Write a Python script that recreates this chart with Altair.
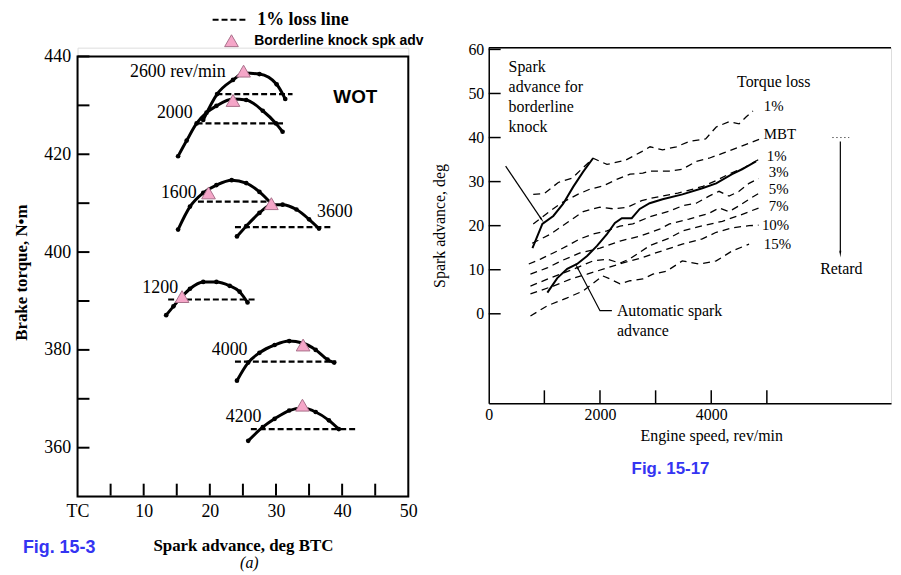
import altair as alt
import pandas as pd

SERIF = "Liberation Serif"
SANS = "Liberation Sans"
PINK = "#f5a6c8"
PINK_EDGE = "#a8708a"
BLUE = "#3434f2"

# ================= Fig. 15-3 : brake torque vs spark advance (WOT) =================
adv_1200 = [13.4, 14.5, 15.8, 17.0, 19.0, 21.0, 23.0, 24.5, 25.7]
trq_1200 = [387.1, 388.9, 390.9, 392.5, 393.9, 393.9, 393.1, 391.9, 389.7]
adv_1600 = [15.2, 17.0, 19.0, 21.0, 23.3, 25.5, 27.5, 29.3]
trq_1600 = [404.6, 409.3, 412.1, 413.7, 414.7, 414.1, 412.3, 409.9]
adv_2000 = [15.2, 16.5, 18.0, 19.5, 21.0, 23.5, 25.5, 28.0, 30.0, 31.0]
trq_2000 = [419.6, 422.8, 426.3, 428.5, 429.9, 431.3, 431.1, 428.9, 426.3, 424.6]
adv_2600 = [19.0, 21.1, 23.5, 25.3, 27.5, 30.1, 31.4]
trq_2600 = [427.0, 432.3, 435.2, 436.6, 436.4, 434.3, 431.3]
adv_3600 = [24.1, 25.5, 27.5, 29.3, 31.0, 33.1, 35.0, 36.5]
trq_3600 = [403.2, 405.3, 408.0, 409.7, 409.7, 408.7, 406.7, 404.8]
adv_4000 = [24.1, 25.8, 27.5, 29.8, 32.0, 34.0, 36.0, 37.8, 38.8]
trq_4000 = [373.7, 377.4, 379.4, 381.0, 381.8, 381.4, 380.0, 378.0, 377.4]
adv_4200 = [25.8, 28.0, 29.8, 32.0, 34.0, 36.0, 38.0, 39.5]
trq_4200 = [361.4, 364.2, 365.9, 367.6, 368.1, 367.3, 365.6, 363.8]

loss_from = [13.7, 18.2, 18.0, 21.0, 23.8, 23.8, 26.2]
loss_to = [26.8, 29.0, 31.3, 32.5, 38.3, 39.1, 42.0]
loss_trq = [390.3, 410.3, 426.3, 432.3, 405.1, 377.6, 363.8]

knock_adv = [15.8, 19.8, 23.5, 25.1, 29.3, 34.1, 34.0]
knock_trq = [390.9, 412.1, 431.0, 437.0, 409.9, 381.0, 368.7]

speed_labels = ["1200", "1600", "2000", "2600 rev/min", "3600", "4000", "4200"]
label_adv = [15.2, 18.0, 17.4, 22.4, 36.2, 25.7, 27.8]
label_trq = [392.7, 412.0, 428.4, 436.8, 408.1, 379.9, 366.3]
label_side = ["right", "right", "right", "right", "left", "right", "right"]

torque_ticks = [360, 370, 380, 390, 400, 410, 420, 430, 440]
torque_labels = [360, 380, 400, 420, 440]
advance_ticks = [5, 10, 15, 20, 25, 30, 35, 40, 45]
advance_labels = [0, 10, 20, 30, 40, 50]

# ================= Fig. 15-17 : spark advance vs engine speed =================
rpm_adv1 = [800, 1000, 1250, 1500, 1875, 2125, 2450, 2750, 2900, 3125, 3375, 3600, 3900, 4090, 4320, 4500, 4630, 4750]
deg_adv1 = [27.1, 27.3, 29.8, 30.8, 35.3, 33.9, 34.8, 36.8, 37.9, 37.2, 37.9, 39.1, 39.7, 42.4, 43.6, 43.1, 44.7, 46.0]
rpm_mbt = [800, 1100, 1300, 1600, 1820, 2050, 2300, 2540, 2770, 2900, 3250, 3480, 3730, 3960, 4200, 4450, 4680, 4860]
deg_mbt = [20.4, 23.3, 25.1, 27.1, 28.3, 29.0, 30.5, 31.7, 31.9, 32.4, 32.4, 32.8, 34.6, 35.3, 36.4, 37.6, 38.7, 39.6]
rpm_r1 = [780, 1100, 1400, 1700, 2000, 2250, 2500, 2750, 2950, 3400, 3850, 4100, 4300, 4600, 4850]
deg_r1 = [16.0, 18.0, 20.6, 23.2, 24.2, 23.8, 24.2, 25.7, 26.3, 27.4, 28.9, 30.3, 31.6, 33.2, 35.0]
rpm_r3 = [720, 930, 1160, 1410, 1640, 1875, 2125, 2360, 2590, 2893, 3250, 3480, 3730, 3960, 4140, 4320, 4500, 4680, 4850]
deg_r3 = [11.3, 12.4, 13.8, 15.4, 17.0, 18.1, 18.8, 19.9, 20.4, 22.0, 23.3, 24.5, 25.1, 26.7, 27.8, 26.7, 27.8, 29.6, 30.7]
rpm_r5 = [750, 1050, 1300, 1640, 2000, 2360, 2710, 3070, 3250, 3600, 3960, 4140, 4320, 4500, 4680, 4850]
deg_r5 = [9.0, 10.4, 12.0, 13.8, 14.9, 16.5, 17.6, 19.2, 20.4, 21.5, 22.8, 24.0, 23.2, 24.5, 26.0, 27.3]
rpm_r7 = [750, 1100, 1500, 1875, 2125, 2360, 2540, 2900, 3250, 3480, 3850, 4200, 4500, 4850]
deg_r7 = [6.3, 8.1, 10.0, 12.0, 12.4, 11.5, 12.5, 15.5, 17.2, 18.8, 20.0, 21.0, 22.3, 24.0]
rpm_r10 = [750, 1160, 1520, 1770, 2100, 2400, 2700, 3000, 3480, 3840, 4090, 4380, 4680, 4850]
deg_r10 = [4.5, 6.3, 8.1, 9.0, 10.3, 11.5, 12.5, 13.8, 15.8, 17.0, 18.5, 19.5, 20.0, 20.1]
rpm_r15 = [750, 1050, 1410, 1700, 2050, 2180, 2360, 2540, 2770, 2950, 3200, 3480, 3790, 4090, 4380, 4680]
deg_r15 = [-0.5, 1.8, 3.6, 5.2, 8.6, 7.9, 6.8, 7.5, 7.9, 9.0, 9.7, 12.0, 11.3, 12.0, 14.3, 15.8]

rpm_auto = [1054, 1232, 1411, 1589, 1768, 1946, 2125, 2268, 2393, 2571, 2714, 2893, 3125, 3482, 3839, 4089, 4375, 4554, 4804]
deg_auto = [4.8, 8.1, 10.2, 11.3, 13.1, 15.4, 18.1, 20.6, 21.7, 21.7, 23.8, 25.1, 26.0, 27.1, 28.5, 29.6, 31.7, 32.8, 34.6]
rpm_knock = [786, 964, 1161, 1339, 1518, 1696, 1875]
deg_knock = [14.9, 20.4, 22.2, 25.0, 28.8, 32.2, 35.3]

curve_names = ["1% adv", "MBT", "1%", "3%", "5%", "7%", "10%", "15%"]
end_labels = ["1%", "MBT", "1%", "3%", "5%", "7%", "10%", "15%"]
end_rpm = [4946, 4946, 5000, 5036, 5036, 5036, 4911, 4946]
end_deg = [47.1, 40.9, 35.9, 32.2, 28.4, 24.4, 20.1, 15.8]

speed_ticks = [1000, 2000, 3000, 4000, 5000]
speed_tick_labels = [0, 2000, 4000]
adv_ticks_b = [0, 10, 20, 30, 40, 50, 60]

# arrows (annotation leaders)
arrow_id = ["knock", "knock", "auto", "auto", "auto", "retard", "retard"]
arrow_rpm = [304, 946, 2214, 2000, 1589, 6321, 6321]
arrow_deg = [33.5, 21.5, 0.7, 0.7, 10.6, 39.1, 13.8]
head_rpm = [946, 1589, 6321]
head_deg = [21.5, 10.6, 13.8]
head_ang = [146, 332, 180]

# ------------------------------------------------------------------------------
LW, LH = 333, 452
RW, RH = 405, 358

lscale_x = alt.Scale(domain=[0, 50], nice=False, zero=False)
lscale_y = alt.Scale(domain=[350, 441.8], nice=False, zero=False)


def lx(field="x"):
    return alt.X(f"{field}:Q", scale=lscale_x,
                 axis=alt.Axis(values=advance_labels,
                               labelExpr="datum.value == 0 ? 'TC' : datum.label",
                               domain=False, ticks=False, grid=False,
                               labelFont=SERIF, labelFontSize=18, labelColor="black",
                               labelPadding=6, labelFlush=False,
                               title="Spark advance, deg BTC", titleFont=SERIF,
                               titleFontSize=17, titleFontWeight="bold", titleColor="black",
                               titlePadding=17))


def ly(field="y"):
    return alt.Y(f"{field}:Q", scale=lscale_y,
                 axis=alt.Axis(values=torque_labels, domain=False, ticks=False, grid=False,
                               labelFont=SERIF, labelFontSize=18, labelColor="black",
                               labelPadding=7, labelFlush=False,
                               title="Brake torque, N\u2022m", titleFont=SERIF,
                               titleFontSize=17, titleFontWeight="bold", titleColor="black",
                               titlePadding=13))


curves_a = pd.concat([
    pd.DataFrame({"speed": s, "x": xs, "y": ys})
    for s, xs, ys in [("1200", adv_1200, trq_1200), ("1600", adv_1600, trq_1600),
                      ("2000", adv_2000, trq_2000), ("2600", adv_2600, trq_2600),
                      ("3600", adv_3600, trq_3600), ("4000", adv_4000, trq_4000),
                      ("4200", adv_4200, trq_4200)]
], ignore_index=True)
loss_df = pd.DataFrame({"x": loss_from, "x2": loss_to, "y": loss_trq})
knock_df = pd.DataFrame({"x": knock_adv, "y": knock_trq})
lab_df = pd.DataFrame({"x": label_adv, "y": label_trq, "t": speed_labels, "side": label_side})
frame_df = pd.DataFrame({"x": [0], "x2": [50], "y": [350], "y2": [440]})
ytick_df = pd.DataFrame({"y": torque_ticks})
xtick_df = pd.DataFrame({"x": advance_ticks})

frame = alt.Chart(frame_df).mark_rect(filled=False, stroke="black", strokeWidth=2).encode(
    x=lx(), x2="x2:Q", y=ly(), y2="y2:Q")
yt = alt.Chart(ytick_df).mark_rule(color="black", strokeWidth=2).encode(
    y=ly(), x=alt.value(0), x2=alt.value(12))
xt = alt.Chart(xtick_df).mark_rule(color="black", strokeWidth=2).encode(
    x=lx(), y=alt.value(LH - 1), y2=alt.value(LH - 13))
loss = alt.Chart(loss_df).mark_rule(color="black", strokeWidth=2.2, strokeDash=[6, 3]).encode(
    x=lx(), x2="x2:Q", y=ly())
lines = alt.Chart(curves_a).mark_line(color="black", strokeWidth=3, interpolate="monotone").encode(
    x=lx(), y=ly(), detail="speed:N")
dots = alt.Chart(curves_a).mark_circle(color="black", size=22, opacity=1).encode(x=lx(), y=ly())
knock = alt.Chart(knock_df).mark_point(shape="triangle-up", filled=True, fill=PINK, stroke=PINK_EDGE,
                                       strokeWidth=1, size=190, opacity=1).encode(x=lx(), y=ly())
lab_r = alt.Chart(lab_df).transform_filter("datum.side == 'right'").mark_text(
    font=SERIF, fontSize=18, align="right", baseline="middle", color="black").encode(
    x=lx(), y=ly(), text="t:N")
lab_l = alt.Chart(lab_df).transform_filter("datum.side == 'left'").mark_text(
    font=SERIF, fontSize=18, align="left", baseline="middle", color="black").encode(
    x=lx(), y=ly(), text="t:N")
wot = alt.Chart(pd.DataFrame({"x": [42.0], "y": [431.7], "t": ["WOT"]})).mark_text(
    font=SANS, fontSize=19, fontWeight="bold", align="center", baseline="middle", color="black").encode(
    x=lx(), y=ly(), text="t:N")

# legend (top of Fig 15-3)
leg_line = alt.Chart(pd.DataFrame({"k": ["loss"]})).mark_rule(
    color="black", strokeWidth=2, strokeDash=[6, 3]).encode(
    x=alt.value(136), x2=alt.value(171), y=alt.value(-28))
leg_tri = alt.Chart(pd.DataFrame({"k": ["knock"]})).mark_point(
    shape="triangle-up", filled=True, fill=PINK, stroke=PINK_EDGE, strokeWidth=1, size=190, opacity=1).encode(
    x=alt.value(155), y=alt.value(-7))
leg_t1 = alt.Chart(pd.DataFrame({"t": ["1% loss line"]})).mark_text(
    font=SERIF, fontSize=18, fontWeight="bold", align="left", baseline="middle", color="black").encode(
    x=alt.value(181), y=alt.value(-28), text="t:N")
leg_t2 = alt.Chart(pd.DataFrame({"t": ["Borderline knock spk adv"]})).mark_text(
    font=SANS, fontSize=14, fontWeight="bold", align="left", baseline="middle", color="black").encode(
    x=alt.value(178), y=alt.value(-7), text="t:N")
fig_a = alt.Chart(pd.DataFrame({"t": ["Fig. 15-3"]})).mark_text(
    font=SANS, fontSize=18, fontWeight="bold", align="left", baseline="middle", color=BLUE).encode(
    x=alt.value(-55), y=alt.value(504), text="t:N")
sub_a = alt.Chart(pd.DataFrame({"t": ["(a)"]})).mark_text(
    font=SERIF, fontSize=16, fontStyle="italic", align="center", baseline="middle", color="black").encode(
    x=alt.value(173), y=alt.value(519), text="t:N")

left = alt.layer(frame, yt, xt, loss, lines, dots, knock, lab_r, lab_l, wot,
                 leg_line, leg_tri, leg_t1, leg_t2, fig_a, sub_a).properties(width=LW, height=LH)

# ------------------------------------------------------------------------------
rscale_x = alt.Scale(domain=[0, 7232], nice=False, zero=False)
rscale_y = alt.Scale(domain=[-20.3, 60.4], nice=False, zero=False)


def rx(field="rpm"):
    return alt.X(f"{field}:Q", scale=rscale_x,
                 axis=alt.Axis(values=speed_tick_labels, format="d", domain=True, domainColor="black",
                               domainWidth=1.5, ticks=False, grid=False, labelFont=SERIF, labelFontSize=16,
                               labelColor="black", labelPadding=3, labelFlush=False,
                               title="Engine speed, rev/min", titleFont=SERIF, titleFontSize=16,
                               titleFontWeight="normal", titleColor="black",
                               titleX=224, titleY=33, titleAlign="center", titleBaseline="middle"))


def ry(field="deg"):
    return alt.Y(f"{field}:Q", scale=rscale_y,
                 axis=alt.Axis(values=adv_ticks_b, domain=True, domainColor="black", domainWidth=1.5,
                               ticks=False, grid=False, labelFont=SERIF, labelFontSize=16,
                               labelColor="black", labelPadding=5, labelFlush=False,
                               title="Spark advance, deg", titleFont=SERIF, titleFontSize=16,
                               titleFontWeight="normal", titleColor="black", titlePadding=21))


dashed_df = pd.concat([
    pd.DataFrame({"curve": n, "rpm": r, "deg": d})
    for n, r, d in zip(curve_names,
                       [rpm_adv1, rpm_mbt, rpm_r1, rpm_r3, rpm_r5, rpm_r7, rpm_r10, rpm_r15],
                       [deg_adv1, deg_mbt, deg_r1, deg_r3, deg_r5, deg_r7, deg_r10, deg_r15])
], ignore_index=True)
solid_df = pd.concat([
    pd.DataFrame({"curve": "auto", "rpm": rpm_auto, "deg": deg_auto}),
    pd.DataFrame({"curve": "knock", "rpm": rpm_knock, "deg": deg_knock}),
], ignore_index=True)
end_df = pd.DataFrame({"rpm": end_rpm, "deg": end_deg, "t": end_labels})
arrow_df = pd.DataFrame({"id": arrow_id, "rpm": arrow_rpm, "deg": arrow_deg,
                         "o": list(range(len(arrow_id)))})
head_df = pd.DataFrame({"rpm": head_rpm, "deg": head_deg, "ang": head_ang})
ryt_df = pd.DataFrame({"deg": adv_ticks_b})
rxt_df = pd.DataFrame({"rpm": speed_ticks})

r_top = alt.Chart(pd.DataFrame({"k": ["top"]})).mark_rule(color="black", strokeWidth=1.5).encode(
    x=alt.value(0), x2=alt.value(RW), y=alt.value(0))
r_yt = alt.Chart(ryt_df).mark_rule(color="black", strokeWidth=1.5).encode(
    y=ry(), x=alt.value(0), x2=alt.value(12))
r_xt = alt.Chart(rxt_df).mark_rule(color="black", strokeWidth=1.5).encode(
    x=rx(), y=alt.value(RH), y2=alt.value(RH - 13))
r_dash = alt.Chart(dashed_df).mark_line(color="black", strokeWidth=1.3, strokeDash=[7, 5]).encode(
    x=rx(), y=ry(), detail="curve:N")
r_solid = alt.Chart(solid_df).mark_line(color="black", strokeWidth=2).encode(
    x=rx(), y=ry(), detail="curve:N")
r_end = alt.Chart(end_df).mark_text(font=SERIF, fontSize=15, align="left", baseline="middle",
                                    color="black").encode(x=rx(), y=ry(), text="t:N")
r_arrow = alt.Chart(arrow_df).mark_line(color="black", strokeWidth=1.2).encode(
    x=rx(), y=ry(), detail="id:N", order="o:Q")
r_head = alt.Chart(head_df).mark_point(shape="wedge", filled=True, color="black", size=60, opacity=1).encode(
    x=rx(), y=ry(), angle=alt.Angle("ang:Q", scale=None))
r_dots = alt.Chart(pd.DataFrame({"rpm": [6180], "rpm2": [6480], "deg": [40.0]})).mark_rule(
    color="black", strokeWidth=1, strokeDash=[1, 3]).encode(x=rx(), x2="rpm2:Q", y=ry())

notes_left = alt.Chart(pd.DataFrame({
    "rpm": [357, 2304, 4464],
    "deg": [57.7, 2.4, 54.5],
    "t": ["Spark\nadvance for\nborderline\nknock", "Automatic spark\nadvance", "Torque loss"]})).mark_text(
    font=SERIF, fontSize=16, align="left", baseline="top", lineBreak="\n", lineHeight=20,
    color="black").encode(x=rx(), y=ry(), text="t:N")
retard = alt.Chart(pd.DataFrame({"rpm": [6339], "deg": [10.2], "t": ["Retard"]})).mark_text(
    font=SERIF, fontSize=16, align="center", baseline="middle", color="black").encode(
    x=rx(), y=ry(), text="t:N")
fig_b = alt.Chart(pd.DataFrame({"t": ["Fig. 15-17"]})).mark_text(
    font=SANS, fontSize=17, fontWeight="bold", align="center", baseline="middle", color=BLUE).encode(
    x=alt.value(183), y=alt.value(424), text="t:N")

right = alt.layer(r_top, r_yt, r_xt, r_dash, r_solid, r_arrow, r_head, r_dots, r_end,
                  notes_left, retard, fig_b).properties(width=RW, height=RH)

chart = alt.hconcat(left, right, spacing=81, bounds="flush").properties(
    padding={"left": 4, "top": 0, "right": 0, "bottom": 0}
).configure_view(stroke=None).configure(background="white")

chart.save("out.html", embed_options={"renderer": "svg", "actions": False})
